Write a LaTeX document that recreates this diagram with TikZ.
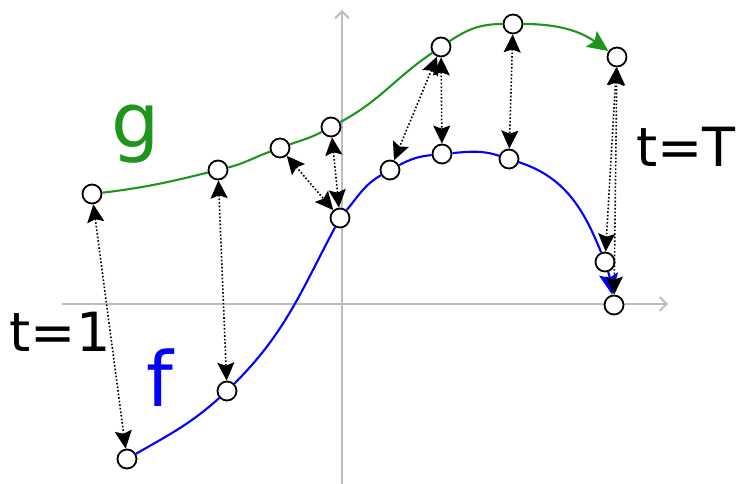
\documentclass[tikz,border=0pt]{standalone}
\usepackage{fontspec}
\setmainfont{DejaVu Sans}
\definecolor{CurveGreen}{RGB}{30,150,30}
\definecolor{CurveBlue}{RGB}{0,0,255}
\definecolor{AxisGray}{RGB}{190,190,190}
\usetikzlibrary{arrows.meta}
\tikzset{
    % Sample point on a curve
    sample/.style={
        circle,
        draw=black,
        fill=white,
        line width=1.8pt,
        minimum size=19pt,
        inner sep=0pt
    },
    % Warping link between samples
    warp/.style={
        {Stealth[length=18pt,width=17pt,inset=3pt]}-{Stealth[length=18pt,width=17pt,inset=3pt]},
        dotted,
        line width=1.6pt,
        color=black
    },
    % Curve g
    gcurve/.style={
        -{Stealth[length=21pt,width=19pt,inset=4pt]},
        line width=2.1pt,
        color=CurveGreen
    },
    % Curve f
    fcurve/.style={
        -{Stealth[length=21pt,width=19pt,inset=4pt]},
        line width=2.1pt,
        color=CurveBlue
    },
    % Axis
    axis/.style={
        -{Straight Barb[length=7pt,width=14pt]},
        line width=2pt,
        color=AxisGray
    },
    % Big labels
    biglabel/.style={
        anchor=base,
        inner sep=0pt,
        font=\fontsize{76}{80}\selectfont
    },
    timelabel/.style={
        anchor=base,
        inner sep=0pt,
        font=\fontsize{54}{60}\selectfont
    }
}

\begin{document}
\begin{tikzpicture}[x=1pt, y=1pt]
        \useasboundingbox (0,0) rectangle (737,484);

        % Axes
        \coordinate (xmin) at (62,180);
        \coordinate (xmax) at (668,180);
        \coordinate (ymin) at (342,0);
        \coordinate (ymax) at (342,474);
        \draw [axis] (xmin) -- (xmax);
        \draw [axis] (ymin) -- (ymax);

        % Samples of g
        \node (g1) [sample] at (92,290) {};
        \node (g2) [sample] at (218,314) {};
        \node (g3) [sample] at (280,336) {};
        \node (g4) [sample] at (331,357) {};
        \node (g5) [sample] at (441,437) {};
        \node (g6) [sample] at (513,460) {};
        \node (g7) [sample] at (617,427) {};

        % Samples of f
        \node (f1) [sample] at (127,25) {};
        \node (f2) [sample] at (227,93) {};
        \node (f3) [sample] at (340,266) {};
        \node (f4) [sample] at (390,314) {};
        \node (f5) [sample] at (442,330) {};
        \node (f6) [sample] at (509,325) {};
        \node (f7) [sample] at (605,222) {};
        \node (f8) [sample] at (614,179) {};

        % Curves
        \draw [gcurve] (g1) to[out=7,in=194] (g2) to[out=14,in=200] (g3)
            to[out=20,in=208] (g4) to[out=28,in=214] (g5)
            to[out=34,in=180] (g6) to[out=0,in=145] (g7);
        \draw [fcurve] (f1) to[out=30,in=222] (f2) to[out=45,in=242] (f3)
            to[out=50,in=210] (f4) to[out=28,in=186] (f5)
            to[out=5,in=162] (f6) to[out=-18,in=112] (f7) to[out=-72,in=100] (f8);

        % Warping path
        \draw [warp] (g1) -- (f1);
        \draw [warp] (g2) -- (f2);
        \draw [warp] (g3) -- (f3);
        \draw [warp] (g4) -- (f3);
        \draw [warp] (g5) -- (f4);
        \draw [warp] (g5) -- (f5);
        \draw [warp] (g6) -- (f6);
        \draw [warp] (g7) -- (f7);
        \draw [warp] (g7) -- (f8);

        % Labels
        \node (glabel) [biglabel, text=CurveGreen] at (136,336) {g};
        \node (flabel) [biglabel, text=CurveBlue] at (160,77) {f};
        \node (tfirst) [timelabel] at (60,132) {t=1};
        \node (tlast) [timelabel] at (686,317) {t=T};
    \end{tikzpicture}
\end{document}
